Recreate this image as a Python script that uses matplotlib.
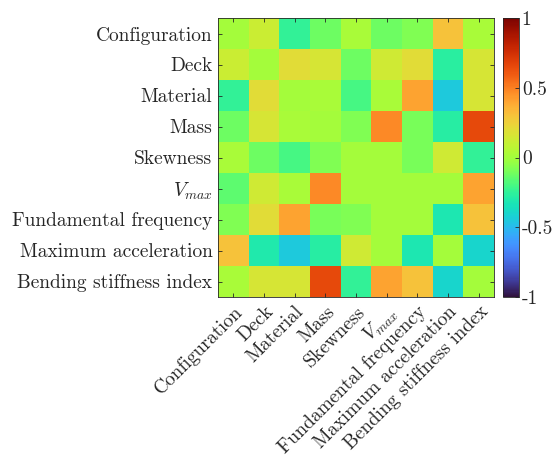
import numpy as np
import matplotlib
matplotlib.use('Agg')
import matplotlib.pyplot as plt

plt.rcParams['font.family'] = ['cmr10', 'DejaVu Serif']
plt.rcParams['mathtext.fontset'] = 'cm'
plt.rcParams['axes.formatter.use_mathtext'] = True

labels = ["Configuration", "Deck", "Material", "Mass", "Skewness", r"$V_{max}$",
          "Fundamental frequency", "Maximum acceleration", "Bending stiffness index"]

# correlation values (diagonal shown as 0)
row_config = [0.00, 0.12, -0.25, -0.12, 0.02, -0.12, -0.08, 0.30, 0.02]
row_deck = [0.12, 0.00, 0.20, 0.16, -0.12, 0.14, 0.20, -0.27, 0.16]
row_material = [-0.25, 0.20, 0.00, 0.02, -0.20, 0.02, 0.40, -0.45, 0.16]
row_mass = [-0.12, 0.16, 0.02, 0.00, -0.08, 0.47, -0.10, -0.28, 0.65]
row_skew = [0.02, -0.12, -0.20, -0.08, 0.00, 0.00, -0.10, 0.14, -0.25]
row_vmax = [-0.15, 0.14, 0.02, 0.47, 0.00, 0.00, 0.00, 0.00, 0.40]
row_freq = [-0.08, 0.20, 0.40, -0.10, -0.08, 0.00, 0.00, -0.32, 0.30]
row_acc = [0.30, -0.30, -0.45, -0.28, 0.14, 0.00, -0.32, 0.00, -0.40]
row_bend = [0.02, 0.16, 0.16, 0.65, -0.25, 0.40, 0.30, -0.40, 0.00]

corr = np.array([row_config, row_deck, row_material, row_mass, row_skew,
                 row_vmax, row_freq, row_acc, row_bend])

W, H = 553, 457
fig = plt.figure(figsize=(W / 100, H / 100), dpi=100)
ax = fig.add_axes([218 / W, (H - 297) / H, 276 / W, 279 / H])
cax = fig.add_axes([503 / W, (H - 297) / H, 16 / W, 279 / H])

im = ax.imshow(corr, cmap='turbo', vmin=-1, vmax=1, aspect='auto', interpolation='nearest')

n = len(labels)
ax.set_xticks(range(n))
ax.set_yticks(range(n))
ax.set_yticklabels(labels, fontsize=14)
ax.set_xticklabels(labels, fontsize=14, rotation=45, ha='right', va='top',
                   rotation_mode='anchor')
ax.tick_params(direction='in', length=3, width=0.6, top=True, right=True, pad=4,
               color='#262626', labelcolor='#262626')
for s in ax.spines.values():
    s.set_linewidth(0.6)
    s.set_color('#262626')

cb = fig.colorbar(im, cax=cax)
cb.set_ticks([-1, -0.5, 0, 0.5, 1])
cb.set_ticklabels(['-1', '-0.5', '0', '0.5', '1'])
cb.ax.tick_params(direction='in', length=3, width=0.6, labelsize=14, pad=2,
                  color='#262626', labelcolor='#262626')
cb.outline.set_linewidth(0.6)
cb.outline.set_edgecolor('#262626')

fig.savefig('out.png', dpi=100)
